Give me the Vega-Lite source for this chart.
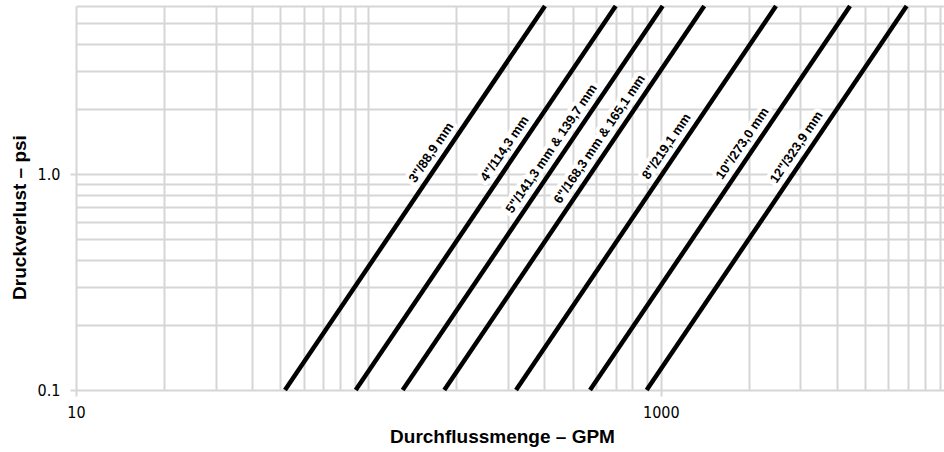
{
  "$schema": "https://vega.github.io/schema/vega-lite/v6.json",
  "width": 868,
  "height": 384,
  "autosize": {"type": "none"},
  "padding": {"left": 76, "top": 6, "right": 0, "bottom": 62},
  "background": "white",
  "config": {"view": {"stroke": null}},
  "datasets": {
    "lines": [
      {"size": "3", "Q": 51.85, "psi": 0.1}, {"size": "3", "Q": 401.6, "psi": 6},
      {"size": "4", "Q": 90.5, "psi": 0.1}, {"size": "4", "Q": 701, "psi": 6},
      {"size": "5", "Q": 131.0, "psi": 0.1}, {"size": "5", "Q": 1014.7, "psi": 6},
      {"size": "6", "Q": 181.8, "psi": 0.1}, {"size": "6", "Q": 1408, "psi": 6},
      {"size": "8", "Q": 319.8, "psi": 0.1}, {"size": "8", "Q": 2477, "psi": 6},
      {"size": "10", "Q": 572.8, "psi": 0.1}, {"size": "10", "Q": 4437, "psi": 6},
      {"size": "12", "Q": 894.6, "psi": 0.1}, {"size": "12", "Q": 6930, "psi": 6}
    ],
    "labels": [
      {"label": "3\"/88,9 mm", "Q": 177.3, "psi": 1.17},
      {"label": "4\"/114,3 mm", "Q": 316.1, "psi": 1.22},
      {"label": "5\"/141,3 mm & 139,7 mm", "Q": 457.6, "psi": 1.22},
      {"label": "6\"/168,3 mm & 165,1 mm", "Q": 668, "psi": 1.35},
      {"label": "8\"/219,1 mm", "Q": 1130.7, "psi": 1.25},
      {"label": "10\"/273,0 mm", "Q": 2057, "psi": 1.29},
      {"label": "12\"/323,9 mm", "Q": 3150, "psi": 1.24}
    ]
  },
  "encoding": {
    "x": {
      "field": "Q", "type": "quantitative",
      "scale": {"type": "log", "domain": [10, 9300], "nice": false},
      "axis": {
        "values": [10, 20, 30, 40, 50, 60, 70, 80, 90, 100, 200, 300, 400, 500, 600, 700, 800, 900, 1000, 2000, 3000, 4000, 5000, 6000, 7000, 8000, 9000],
        "grid": true, "gridColor": "#d6d6d6", "gridWidth": 2,
        "domain": false,
        "ticks": true, "tickSize": 6, "tickWidth": 2, "tickColor": "#d6d6d6",
        "tickOpacity": {"condition": {"test": "datum.value == 10 || datum.value == 1000", "value": 1}, "value": 0},
        "labelExpr": "datum.value == 10 ? '10' : (datum.value == 1000 ? '1000' : '')",
        "labelFont": "Liberation Sans Narrow, DejaVu Sans Condensed, Liberation Sans", "labelFontSize": 16, "labelColor": "#000",
        "labelPadding": 8, "labelFlush": false, "labelOverlap": false,
        "title": "Durchflussmenge – GPM", "titleFont": "Liberation Sans", "titleFontSize": 19, "titleFontWeight": "bold", "titleColor": "#000",
        "titleX": 426, "titleY": 52, "titleAlign": "center", "titleBaseline": "alphabetic"
      }
    },
    "y": {
      "field": "psi", "type": "quantitative",
      "scale": {"type": "log", "domain": [0.1, 6], "nice": false},
      "axis": {
        "values": [0.1, 0.2, 0.3, 0.4, 0.5, 0.6, 0.7, 0.8, 0.9, 1, 2, 3, 4, 5, 6],
        "grid": true, "gridColor": "#d6d6d6", "gridWidth": 2,
        "domain": false,
        "ticks": true, "tickSize": 6, "tickWidth": 2, "tickColor": "#d6d6d6",
        "tickOpacity": {"condition": {"test": "datum.value == 0.1 || datum.value == 1", "value": 1}, "value": 0},
        "labelExpr": "datum.value == 0.1 ? '0.1' : (datum.value == 1 ? '1.0' : '')",
        "labelFont": "Liberation Sans Narrow, DejaVu Sans Condensed, Liberation Sans", "labelFontSize": 16, "labelColor": "#000",
        "labelPadding": 10, "labelFlush": false, "labelOverlap": false,
        "title": "Druckverlust – psi", "titleFont": "Liberation Sans", "titleFontSize": 19, "titleFontWeight": "bold", "titleColor": "#000",
        "titleX": -51, "titleY": 211, "titleAngle": 270, "titleAlign": "center", "titleBaseline": "alphabetic"
      }
    }
  },
  "layer": [
    {
      "data": {"name": "labels"},
      "mark": {"type": "text", "angle": 304.1, "align": "center", "baseline": "middle", "dy": -12, "font": "Liberation Sans", "fontSize": 13, "fontWeight": "bold", "fill": "white", "stroke": "white", "strokeWidth": 8, "strokeJoin": "round"},
      "encoding": {"text": {"field": "label"}}
    },
    {
      "data": {"name": "lines"},
      "mark": {"type": "line", "color": "black", "strokeWidth": 4.5, "strokeCap": "butt"},
      "encoding": {"detail": {"field": "size"}}
    },
    {
      "data": {"name": "labels"},
      "mark": {"type": "text", "angle": 304.1, "align": "center", "baseline": "middle", "dy": -12, "font": "Liberation Sans", "fontSize": 13, "fontWeight": "bold", "color": "black"},
      "encoding": {"text": {"field": "label"}}
    }
  ]
}
